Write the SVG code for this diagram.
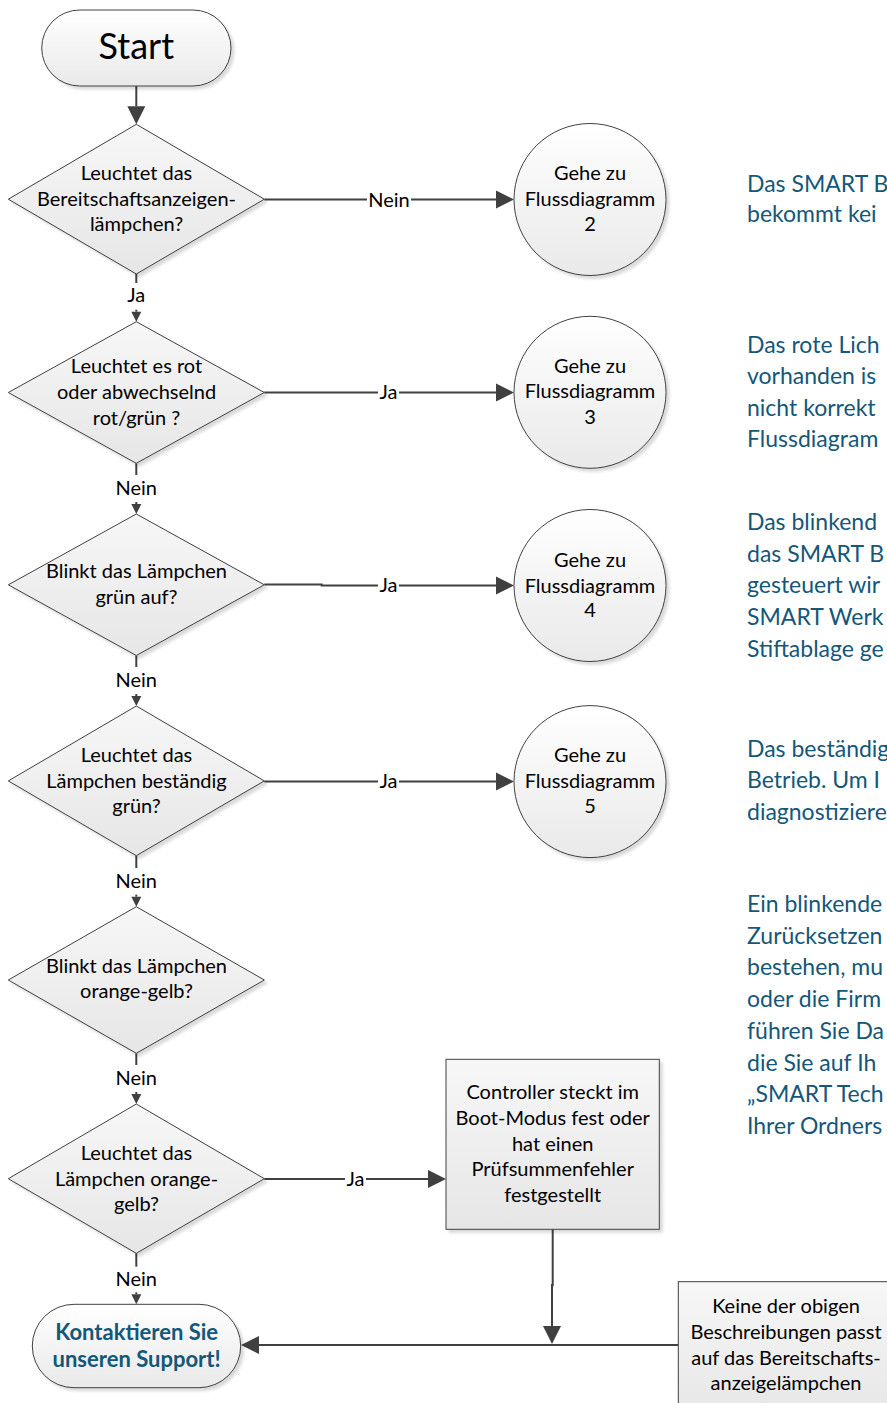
<svg xmlns="http://www.w3.org/2000/svg" width="887" height="1403" viewBox="0 0 887 1403">
<style>
.shape{stroke:#404040;stroke-width:1;filter:url(#sh)}
.fillA{fill:url(#gA)}
.fillB{fill:url(#gB)}
.t{font-family:Lato,"Liberation Sans",sans-serif;font-size:20px;fill:#000;text-anchor:middle}
.lbl{font-family:Lato,"Liberation Sans",sans-serif;font-size:20px;fill:#000;text-anchor:middle}
.big{font-family:Lato,"Liberation Sans",sans-serif;font-size:36px;fill:#000;text-anchor:middle}
.bold{font-family:Lato,"Liberation Sans",sans-serif;font-size:22px;font-weight:bold;fill:#145779;text-anchor:middle}
.note{font-family:Lato,"Liberation Sans",sans-serif;font-size:23px;fill:#145779}
.c{fill:none;stroke:#404040;stroke-width:2}
.cL{marker-end:url(#aL)}
.cS{marker-end:url(#aS)}
</style>
<defs>
<linearGradient id="gA" x1="0" y1="0" x2="0" y2="1">
<stop offset="0" stop-color="#ffffff"/>
<stop offset="1" stop-color="#e9e9e9"/>
</linearGradient>
<linearGradient id="gB" x1="0" y1="0" x2="0" y2="1">
<stop offset="0" stop-color="#f7f7f7"/>
<stop offset="1" stop-color="#e6e6e6"/>
</linearGradient>
<filter id="sh" x="-10%" y="-10%" width="125%" height="125%">
<feGaussianBlur in="SourceAlpha" stdDeviation="1.5"/>
<feOffset dx="3" dy="3" result="o"/>
<feComponentTransfer><feFuncA type="linear" slope="0.15"/></feComponentTransfer>
<feMerge><feMergeNode/><feMergeNode in="SourceGraphic"/></feMerge>
</filter>
<marker id="aL" markerUnits="userSpaceOnUse" markerWidth="20" markerHeight="20" refX="0" refY="0" orient="auto" overflow="visible">
<path d="M0,-9 L18,0 L0,9 Z" fill="#404040"/>
</marker>
<marker id="aS" markerUnits="userSpaceOnUse" markerWidth="12" markerHeight="12" refX="0" refY="0" orient="auto" overflow="visible">
<path d="M0,-5 L10,0 L0,5 Z" fill="#404040"/>
</marker>
</defs>
<rect width="887" height="1403" fill="#ffffff"/>

<g id="connectors">
<path class="c cL" d="M136.3,86 V106.3"/>
<path class="c" d="M264.3,199.5 H367"/>
<path class="c cL" d="M411,199.5 H496"/>
<text class="lbl" x="389" y="206.5">Nein</text>
<path class="c" d="M136.3,274 V283"/>
<text class="lbl" x="136.3" y="302">Ja</text>
<path class="c cS" d="M136.3,309.7 V311.7"/>
<path class="c" d="M264.3,392.5 H378"/>
<path class="c cL" d="M399,392.5 H496"/>
<text class="lbl" x="388.5" y="399.3">Ja</text>
<path class="c" d="M136.3,463.3 V475"/>
<text class="lbl" x="136.3" y="495">Nein</text>
<path class="c cS" d="M136.3,502 V504"/>
<path class="c" d="M264.3,584.5 H321.7 V585.5 H378"/>
<path class="c cL" d="M399,585.5 H496"/>
<text class="lbl" x="388.5" y="592.3">Ja</text>
<path class="c" d="M136.3,655.5 V667"/>
<text class="lbl" x="136.3" y="686.7">Nein</text>
<path class="c cS" d="M136.3,694 V696"/>
<path class="c" d="M264.3,781.5 H378"/>
<path class="c cL" d="M399,781.5 H496"/>
<text class="lbl" x="388.5" y="788.3">Ja</text>
<path class="c" d="M136.3,855.7 V868"/>
<text class="lbl" x="136.3" y="888.3">Nein</text>
<path class="c cS" d="M136.3,894.7 V896.7"/>
<path class="c" d="M136.3,1053.3 V1065"/>
<text class="lbl" x="136.3" y="1085">Nein</text>
<path class="c cS" d="M136.3,1092 V1094"/>
<path class="c" d="M264.3,1179 H345"/>
<path class="c cL" d="M366,1179 H428"/>
<text class="lbl" x="355.5" y="1185.8">Ja</text>
<path class="c" d="M136.3,1253.3 V1266.7"/>
<text class="lbl" x="136.3" y="1285.7">Nein</text>
<path class="c cS" d="M136.3,1292.3 V1294.3"/>
<path class="c cL" d="M552.7,1229.3 V1285 H552 V1326"/>
<path class="c cL" d="M678.3,1345 H259"/>
</g>

<g id="start">
<rect class="shape fillA" x="41.7" y="10" width="189.3" height="76" rx="38" ry="38"/>
<text class="big" x="136.3" y="59.3">Start</text>
</g>

<g id="d1">
<polygon class="shape fillB" points="136.3,124.3 264.3,199.2 136.3,274 8.3,199.2"/>
<text class="t" x="136.5" y="180">Leuchtet das</text>
<text class="t" x="136.5" y="205.5">Bereitschaftsanzeigen-</text>
<text class="t" x="136.5" y="230.5">lämpchen?</text>
</g>

<g id="d2">
<polygon class="shape fillB" points="136.3,321.7 264.3,392.5 136.3,463.3 8.3,392.5"/>
<text class="t" x="136.5" y="373.3">Leuchtet es rot</text>
<text class="t" x="136.5" y="399">oder abwechselnd</text>
<text class="t" x="136.5" y="425">rot/grün ?</text>
</g>

<g id="d3">
<polygon class="shape fillB" points="136.3,514 264.3,584.8 136.3,655.5 8.3,584.8"/>
<text class="t" x="136.5" y="578.3">Blinkt das Lämpchen</text>
<text class="t" x="136.5" y="604">grün auf?</text>
</g>

<g id="d4">
<polygon class="shape fillB" points="136.3,706 264.3,780.9 136.3,855.7 8.3,780.9"/>
<text class="t" x="136.5" y="761.7">Leuchtet das</text>
<text class="t" x="136.5" y="787.7">Lämpchen beständig</text>
<text class="t" x="136.5" y="813.3">grün?</text>
</g>

<g id="d5">
<polygon class="shape fillB" points="136.3,906.7 264.3,980 136.3,1053.3 8.3,980"/>
<text class="t" x="136.5" y="973.3">Blinkt das Lämpchen</text>
<text class="t" x="136.5" y="998.3">orange-gelb?</text>
</g>

<g id="d6">
<polygon class="shape fillB" points="136.3,1104 264.3,1178.7 136.3,1253.3 8.3,1178.7"/>
<text class="t" x="136.5" y="1160">Leuchtet das</text>
<text class="t" x="136.5" y="1185.7">Lämpchen orange-</text>
<text class="t" x="136.5" y="1211">gelb?</text>
</g>

<g id="c1">
<circle class="shape fillA" cx="590" cy="199.5" r="76"/>
<text class="t" x="590" y="180">Gehe zu</text>
<text class="t" x="590" y="206">Flussdiagramm</text>
<text class="t" x="590" y="231">2</text>
</g>

<g id="c2">
<circle class="shape fillA" cx="590" cy="392.3" r="76"/>
<text class="t" x="590" y="372.7">Gehe zu</text>
<text class="t" x="590" y="398.3">Flussdiagramm</text>
<text class="t" x="590" y="424.3">3</text>
</g>

<g id="c3">
<circle class="shape fillA" cx="590" cy="585.5" r="76"/>
<text class="t" x="590" y="566.7">Gehe zu</text>
<text class="t" x="590" y="592.7">Flussdiagramm</text>
<text class="t" x="590" y="617.3">4</text>
</g>

<g id="c4">
<circle class="shape fillA" cx="590" cy="781.6" r="76"/>
<text class="t" x="590" y="761.7">Gehe zu</text>
<text class="t" x="590" y="787.7">Flussdiagramm</text>
<text class="t" x="590" y="812.7">5</text>
</g>

<g id="box1">
<rect class="shape fillB" x="446" y="1059.3" width="213.3" height="170"/>
<text class="t" x="552.7" y="1099.3">Controller steckt im</text>
<text class="t" x="552.7" y="1125">Boot-Modus fest oder</text>
<text class="t" x="552.7" y="1151">hat einen</text>
<text class="t" x="552.7" y="1176.3">Prüfsummenfehler</text>
<text class="t" x="552.7" y="1201.7">festgestellt</text>
</g>

<g id="box2">
<rect class="shape fillB" x="678.3" y="1281.7" width="216" height="140"/>
<text class="t" x="786" y="1313.3">Keine der obigen</text>
<text class="t" x="786" y="1339.3">Beschreibungen passt</text>
<text class="t" x="786" y="1365">auf das Bereitschafts-</text>
<text class="t" x="786" y="1390">anzeigelämpchen</text>
</g>

<g id="end">
<rect class="shape fillA" x="32.3" y="1304.3" width="208.4" height="83.4" rx="41.7" ry="41.7"/>
<text class="bold" x="136.6" y="1340">Kontaktieren Sie</text>
<text class="bold" x="136.6" y="1366.7">unseren Support!</text>
</g>

<g id="notes">
<text class="note" x="747" y="191.7">Das SMART B</text>
<text class="note" x="747" y="222.3">bekommt kei</text>
<text class="note" x="747" y="352.5">Das rote Lich</text>
<text class="note" x="747" y="384">vorhanden is</text>
<text class="note" x="747" y="415.5">nicht korrekt</text>
<text class="note" x="747" y="447">Flussdiagram</text>
<text class="note" x="747" y="530">Das blinkend</text>
<text class="note" x="747" y="561.7">das SMART B</text>
<text class="note" x="747" y="593.3">gesteuert wir</text>
<text class="note" x="747" y="625">SMART Werk</text>
<text class="note" x="747" y="656.7">Stiftablage ge</text>
<text class="note" x="747" y="756.7">Das beständig</text>
<text class="note" x="747" y="788.3">Betrieb. Um I</text>
<text class="note" x="747" y="820">diagnostiziere</text>
<text class="note" x="747" y="912">Ein blinkende</text>
<text class="note" x="747" y="943.7">Zurücksetzen</text>
<text class="note" x="747" y="975.4">bestehen, mu</text>
<text class="note" x="747" y="1007">oder die Firm</text>
<text class="note" x="747" y="1038.8">führen Sie Da</text>
<text class="note" x="747" y="1070.5">die Sie auf Ih</text>
<text class="note" x="747" y="1102.2">„SMART Tech</text>
<text class="note" x="747" y="1134">Ihrer Ordners</text>
</g>
</svg>
